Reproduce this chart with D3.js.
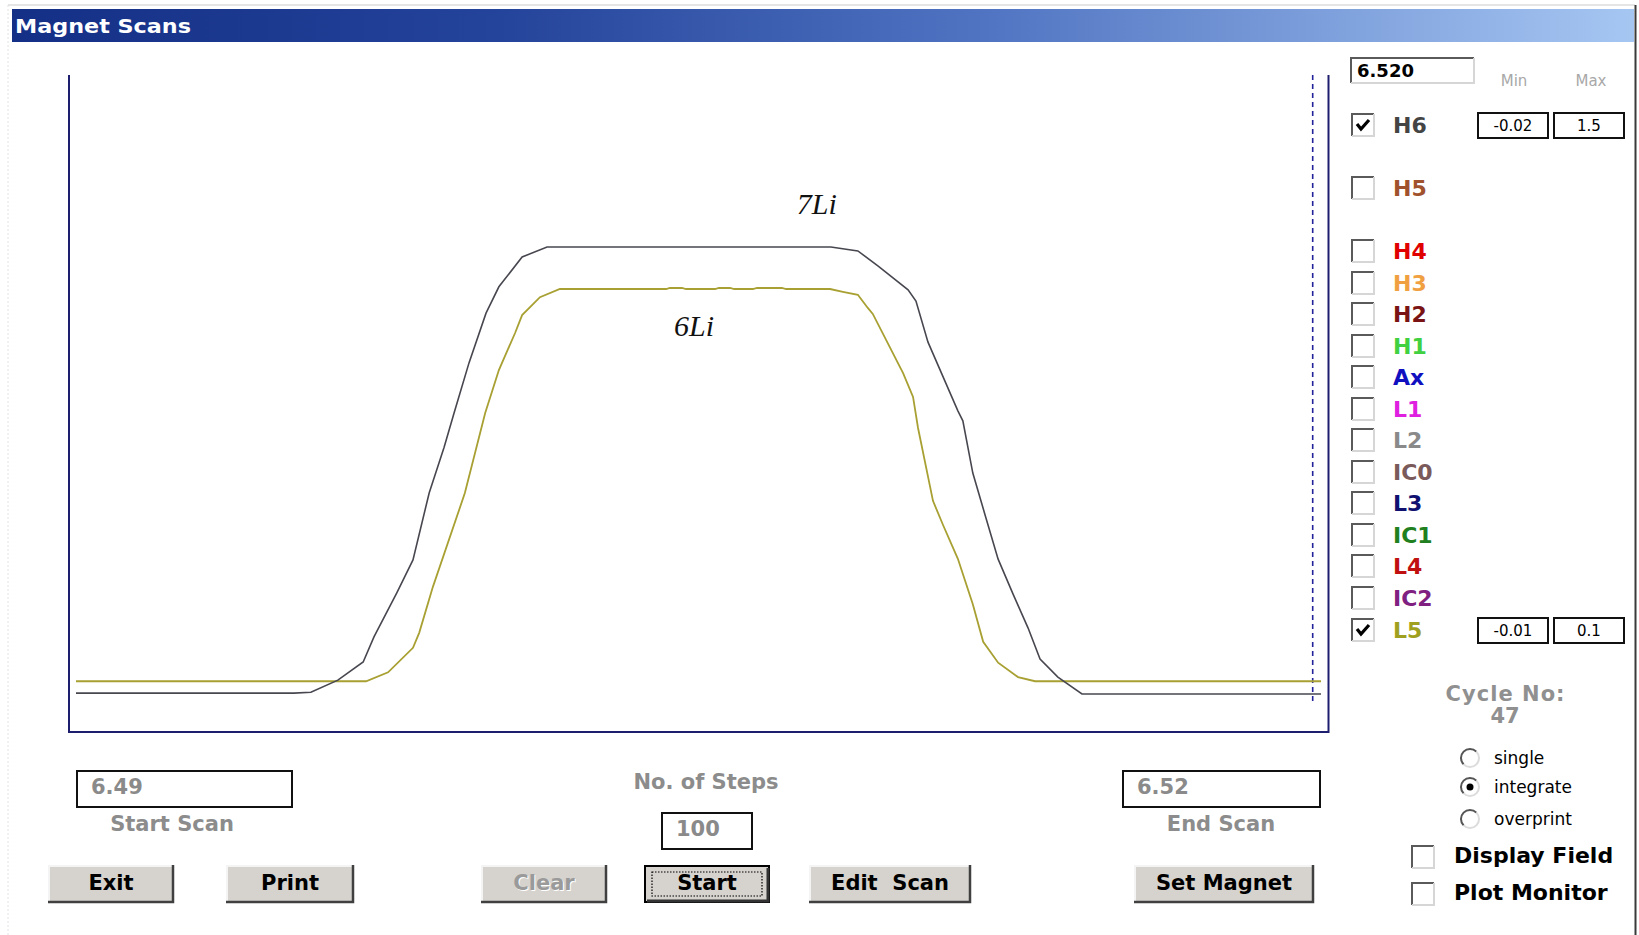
<!DOCTYPE html>
<html>
<head>
<meta charset="utf-8">
<script src="https://cdn.jsdelivr.net/npm/d3@7"></script>
<style>
  html, body { margin: 0; padding: 0; background: #ffffff; }
  svg { display: block; }
  text { font-family: "DejaVu Sans", sans-serif; }
</style>
</head>
<body>
<svg id="chart" width="1639" height="935"></svg>
<script>
// ---------------- DATA ----------------
const scanStart = 6.49;
const scanEnd = 6.52;
const numSteps = 100;
const currentField = "6.520";
const markerField = 6.5198;
const cycleNo = 47;

// H6 channel (7Li)
const fieldH6 = [6.4900, 6.49525, 6.49566, 6.49631, 6.49692, 6.49718, 6.49773, 6.49812, 6.49851, 6.49887,
  6.49911, 6.49947, 6.49988, 6.50019, 6.50075, 6.50135, 6.50819, 6.50884, 6.50933, 6.51005,
  6.51024, 6.51053, 6.51125, 6.51137, 6.51161, 6.51190, 6.51222, 6.51258, 6.51294, 6.51323,
  6.51366, 6.51424, 6.5200];
const valueH6 = [0.070, 0.070, 0.072, 0.100, 0.142, 0.200, 0.302, 0.378, 0.533, 0.639,
  0.718, 0.834, 0.949, 1.010, 1.079, 1.102, 1.102, 1.093, 1.058, 1.003,
  0.977, 0.882, 0.723, 0.700, 0.579, 0.484, 0.380, 0.299, 0.221, 0.149,
  0.107, 0.068, 0.068];

// L5 channel (6Li)
const fieldL5 = [6.4900, 6.49699, 6.49752, 6.49812, 6.49827, 6.49860, 6.49937, 6.49986, 6.50019, 6.50058,
  6.50075, 6.50118, 6.50166, 6.50422, 6.50431, 6.50460, 6.50470, 6.50540, 6.50549, 6.50576,
  6.50586, 6.50631, 6.50641, 6.50701, 6.50711, 6.50817, 6.50848, 6.50884, 6.50908, 6.50920,
  6.50993, 6.51017, 6.51029, 6.51065, 6.51089, 6.51125, 6.51161, 6.51186, 6.51222, 6.51270,
  6.51311, 6.5200];
const valueL5 = [-0.0015, -0.0015, 0.0000, 0.0041, 0.0066, 0.0143, 0.0300, 0.0434, 0.0506, 0.0568,
  0.0598, 0.0628, 0.06417, 0.06417, 0.06434, 0.06434, 0.06417, 0.06417, 0.06434, 0.06434,
  0.06417, 0.06417, 0.06434, 0.06434, 0.06417, 0.06417, 0.0637, 0.0632, 0.0610, 0.0600,
  0.0501, 0.0461, 0.0409, 0.0287, 0.0247, 0.0190, 0.0114, 0.0051, 0.0016, -0.0008,
  -0.0015, -0.0015];

// channel list
const channels = ["H6", "H5", "H4", "H3", "H2", "H1", "Ax", "L1", "L2", "IC0", "L3", "IC1", "L4", "IC2", "L5"];
const channelChecked = ["H6", "L5"];
const rangeH6 = ["-0.02", "1.5"];
const rangeL5 = ["-0.01", "0.1"];
const annotations = [
  { label: "7Li", field: 6.50737, value: 1.1784, channel: "H6" },
  { label: "6Li", field: 6.50441, value: 0.0563, channel: "L5" }
];
const modes = ["single", "integrate", "overprint"];
const selectedMode = "integrate";
const options = ["Display Field", "Plot Monitor"];
const buttons = ["Exit", "Print", "Clear", "Start", "Edit  Scan", "Set Magnet"];

// ---------------- STYLE ----------------
const channelColors = {
  H6: "#444444", H5: "#a0522d", H4: "#e00000", H3: "#f0a040", H2: "#7a1414",
  H1: "#40d040", Ax: "#1010c0", L1: "#e020e0", L2: "#8a8a8a", IC0: "#7a5a5a",
  L3: "#101070", IC1: "#208020", L4: "#c01010", IC2: "#802080", L5: "#a0a020"
};
const lineColors = { H6: "#474750", L5: "#a8a032" };

const svg = d3.select("#chart");

// window frame
svg.append("line").attr("x1", 8).attr("x2", 1635).attr("y1", 5).attr("y2", 5)
  .attr("stroke", "#dcdcdc").attr("stroke-width", 1.5);
svg.append("line").attr("x1", 8).attr("x2", 8).attr("y1", 5).attr("y2", 935)
  .attr("stroke", "#e2e2e2").attr("stroke-width", 1).attr("stroke-dasharray", "2,2");
svg.append("line").attr("x1", 1635.5).attr("x2", 1635.5).attr("y1", 5).attr("y2", 935)
  .attr("stroke", "#3a3a3a").attr("stroke-width", 2);

// title bar
const defs = svg.append("defs");
const grad = defs.append("linearGradient").attr("id", "tb").attr("x1", "0").attr("x2", "1").attr("y1", "0").attr("y2", "0");
grad.append("stop").attr("offset", "0").attr("stop-color", "#142f86");
grad.append("stop").attr("offset", "0.3").attr("stop-color", "#24439a");
grad.append("stop").attr("offset", "0.6").attr("stop-color", "#5074c2");
grad.append("stop").attr("offset", "1").attr("stop-color", "#a6c6f2");
svg.append("rect").attr("x", 12).attr("y", 9).attr("width", 1622).attr("height", 33).attr("fill", "url(#tb)");
svg.append("text").attr("x", 15).attr("y", 33).attr("fill", "#ffffff")
  .attr("font-weight", "bold").attr("font-size", 20).attr("textLength", 176)
  .attr("lengthAdjust", "spacingAndGlyphs").text("Magnet Scans");

// ---------------- PLOT ----------------
const x = d3.scaleLinear().domain([scanStart, scanEnd]).range([76, 1321]);
const yH6 = d3.scaleLinear().domain([+rangeH6[0], +rangeH6[1]]).range([732, 75]);
const yL5 = d3.scaleLinear().domain([+rangeL5[0], +rangeL5[1]]).range([732, 75]);
const yScales = { H6: yH6, L5: yL5 };

// frame
svg.append("path").attr("d", "M69,75 V732 H1328.5 V75")
  .attr("fill", "none").attr("stroke", "#1e1e6e").attr("stroke-width", 2);
// current field marker (dashed)
svg.append("line").attr("x1", x(markerField)).attr("x2", x(markerField)).attr("y1", 75).attr("y2", 701)
  .attr("stroke", "#22229a").attr("stroke-width", 1.6).attr("stroke-dasharray", "5,4");

const seriesH6 = fieldH6.map((f, i) => ({ f, v: valueH6[i] }));
const seriesL5 = fieldL5.map((f, i) => ({ f, v: valueL5[i] }));

svg.append("path").datum(seriesL5)
  .attr("fill", "none").attr("stroke", lineColors.L5).attr("stroke-width", 1.8)
  .attr("d", d3.line().x(d => x(d.f)).y(d => yL5(d.v)));
svg.append("path").datum(seriesH6)
  .attr("fill", "none").attr("stroke", lineColors.H6).attr("stroke-width", 1.6)
  .attr("d", d3.line().x(d => x(d.f)).y(d => yH6(d.v)));

svg.selectAll("text.anno").data(annotations).join("text").attr("class", "anno")
  .attr("x", d => x(d.field)).attr("y", d => yScales[d.channel](d.value))
  .style("font-family", "'Liberation Serif', 'Times New Roman', serif")
  .attr("font-style", "italic").attr("font-size", 30).attr("fill", "#111")
  .text(d => d.label);

// ---------------- helpers ----------------
function sunkenBox(g, x0, y0, w, h) {
  g.append("rect").attr("x", x0).attr("y", y0).attr("width", w).attr("height", h).attr("fill", "#fff");
  g.append("path").attr("d", `M${x0},${y0 + h} V${y0} H${x0 + w}`).attr("fill", "none")
    .attr("stroke", "#5a5a5a").attr("stroke-width", 2);
  g.append("path").attr("d", `M${x0 + w},${y0} V${y0 + h} H${x0}`).attr("fill", "none")
    .attr("stroke", "#d6d6d6").attr("stroke-width", 2);
}
function checkbox(g, x0, y0, checked) {
  sunkenBox(g, x0, y0, 22, 22);
  if (checked) {
    g.append("path").attr("d", `M${x0 + 5},${y0 + 10} L${x0 + 9},${y0 + 15} L${x0 + 17},${y0 + 6}`)
      .attr("fill", "none").attr("stroke", "#000").attr("stroke-width", 3.2);
  }
}
function plainBox(g, x0, y0, w, h) {
  g.append("rect").attr("x", x0).attr("y", y0).attr("width", w).attr("height", h)
    .attr("fill", "#fff").attr("stroke", "#111").attr("stroke-width", 2);
}

// ---------------- RIGHT PANEL ----------------
const rp = svg.append("g");
sunkenBox(rp, 1351, 58, 123, 25);
rp.append("text").attr("x", 1357).attr("y", 77).attr("font-weight", "bold").attr("font-size", 18)
  .attr("fill", "#000").text(currentField);
rp.append("text").attr("x", 1514).attr("y", 86).attr("text-anchor", "middle").attr("font-size", 15)
  .attr("fill", "#a8a8a8").text("Min");
rp.append("text").attr("x", 1591).attr("y", 86).attr("text-anchor", "middle").attr("font-size", 15)
  .attr("fill", "#a8a8a8").text("Max");

const rowY = { H6: 125, H5: 188, H4: 251, H3: 283, H2: 314, H1: 346, Ax: 377, L1: 409, L2: 440,
  IC0: 472, L3: 503, IC1: 535, L4: 566, IC2: 598, L5: 630 };
channels.forEach(c => {
  const cy = rowY[c];
  checkbox(rp, 1352, cy - 11, channelChecked.includes(c));
  rp.append("text").attr("x", 1393).attr("y", cy + 8).attr("font-weight", "bold").attr("font-size", 22)
    .attr("fill", channelColors[c]).text(c);
});
[["H6", rangeH6], ["L5", rangeL5]].forEach(([c, r]) => {
  const cy = rowY[c];
  plainBox(rp, 1478, cy - 12, 70, 25);
  plainBox(rp, 1554, cy - 12, 70, 25);
  rp.append("text").attr("x", 1513).attr("y", cy + 6).attr("text-anchor", "middle").attr("font-size", 15).text(r[0]);
  rp.append("text").attr("x", 1589).attr("y", cy + 6).attr("text-anchor", "middle").attr("font-size", 15).text(r[1]);
});

rp.append("text").attr("x", 1505).attr("y", 701).attr("text-anchor", "middle").attr("font-weight", "bold")
  .attr("font-size", 21).attr("fill", "#909090").attr("textLength", 119).text("Cycle No:");
rp.append("text").attr("x", 1505).attr("y", 723).attr("text-anchor", "middle").attr("font-weight", "bold")
  .attr("font-size", 21).attr("fill", "#909090").text(cycleNo);

const modeY = [758, 787, 819];
modes.forEach((m, i) => {
  const cy = modeY[i];
  rp.append("circle").attr("cx", 1470).attr("cy", cy).attr("r", 9).attr("fill", "#fff");
  rp.append("path").attr("d", d3.arc()({ innerRadius: 8, outerRadius: 10, startAngle: Math.PI * 1.25, endAngle: Math.PI * 2.25 }))
    .attr("transform", `translate(1470,${cy})`).attr("fill", "#555");
  rp.append("path").attr("d", d3.arc()({ innerRadius: 8, outerRadius: 10, startAngle: Math.PI * 0.25, endAngle: Math.PI * 1.25 }))
    .attr("transform", `translate(1470,${cy})`).attr("fill", "#dcdcdc");
  if (m === selectedMode) rp.append("circle").attr("cx", 1470).attr("cy", cy).attr("r", 3.5).attr("fill", "#000");
  rp.append("text").attr("x", 1494).attr("y", cy + 6).attr("font-size", 17).attr("fill", "#000").text(m);
});

const optY = [856, 893];
options.forEach((o, i) => {
  checkbox(rp, 1412, optY[i] - 10, false);
  rp.append("text").attr("x", 1454).attr("y", optY[i] + 7).attr("font-weight", "bold").attr("font-size", 22)
    .attr("fill", "#000").text(o);
});

// ---------------- BOTTOM CONTROLS ----------------
const bc = svg.append("g");
plainBox(bc, 77, 771, 215, 36);
bc.append("text").attr("x", 91).attr("y", 794).attr("font-size", 21).attr("fill", "#8a8a8a").attr("font-weight", "bold")
  .text(d3.format(".2f")(scanStart));
bc.append("text").attr("x", 172).attr("y", 831).attr("text-anchor", "middle").attr("font-size", 21)
  .attr("font-weight", "bold").attr("fill", "#8c8c8c").text("Start Scan");

bc.append("text").attr("x", 706).attr("y", 789).attr("text-anchor", "middle").attr("font-size", 21)
  .attr("font-weight", "bold").attr("fill", "#8c8c8c").text("No. of Steps");
plainBox(bc, 662, 813, 90, 36);
bc.append("text").attr("x", 676).attr("y", 836).attr("font-size", 21).attr("font-weight", "bold")
  .attr("fill", "#8a8a8a").text(numSteps);

plainBox(bc, 1123, 771, 197, 36);
bc.append("text").attr("x", 1137).attr("y", 794).attr("font-size", 21).attr("fill", "#8a8a8a").attr("font-weight", "bold")
  .text(d3.format(".2f")(scanEnd));
bc.append("text").attr("x", 1221).attr("y", 831).attr("text-anchor", "middle").attr("font-size", 21)
  .attr("font-weight", "bold").attr("fill", "#8c8c8c").text("End Scan");

const btnX = { "Exit": [48, 174], "Print": [226, 354], "Clear": [481, 607], "Start": [644, 770],
  "Edit  Scan": [809, 971], "Set Magnet": [1134, 1314] };
buttons.forEach(b => {
  const [x0, x1] = btnX[b];
  const y0 = 865, y1 = 903, w = x1 - x0, h = y1 - y0;
  const g = bc.append("g");
  g.append("rect").attr("x", x0).attr("y", y0).attr("width", w).attr("height", h).attr("fill", "#d6d3ce");
  if (b === "Start") {
    g.append("rect").attr("x", x0 + 1).attr("y", y0 + 1).attr("width", w - 2).attr("height", h - 2)
      .attr("fill", "none").attr("stroke", "#000").attr("stroke-width", 2);
    g.append("path").attr("d", `M${x0 + 3},${y1 - 2} H${x1 - 2} V${y0 + 3}`).attr("fill", "none")
      .attr("stroke", "#333").attr("stroke-width", 3);
    g.append("rect").attr("x", x0 + 8).attr("y", y0 + 7).attr("width", w - 16).attr("height", h - 14)
      .attr("fill", "none").attr("stroke", "#000").attr("stroke-width", 1.2).attr("stroke-dasharray", "1.5,1.5");
  } else {
    g.append("path").attr("d", `M${x0 + 1},${y1} V${y0 + 1} H${x1}`).attr("fill", "none")
      .attr("stroke", "#f4f4f4").attr("stroke-width", 2);
    g.append("path").attr("d", `M${x0},${y1 - 1} H${x1 - 1} V${y0}`).attr("fill", "none")
      .attr("stroke", "#404040").attr("stroke-width", 2.5);
  }
  const tx = (x0 + x1) / 2, ty = y0 + 25;
  if (b === "Clear") {
    g.append("text").attr("x", tx + 1).attr("y", ty + 1).attr("text-anchor", "middle").attr("font-size", 21)
      .attr("font-weight", "bold").attr("fill", "#ffffff").text(b);
    g.append("text").attr("x", tx).attr("y", ty).attr("text-anchor", "middle").attr("font-size", 21)
      .attr("font-weight", "bold").attr("fill", "#9a9a9a").text(b);
  } else {
    g.append("text").attr("x", tx).attr("y", ty).attr("text-anchor", "middle").attr("font-size", 21)
      .attr("font-weight", "bold").attr("fill", "#000").attr("xml:space", "preserve").text(b);
  }
});
</script>
</body>
</html>
